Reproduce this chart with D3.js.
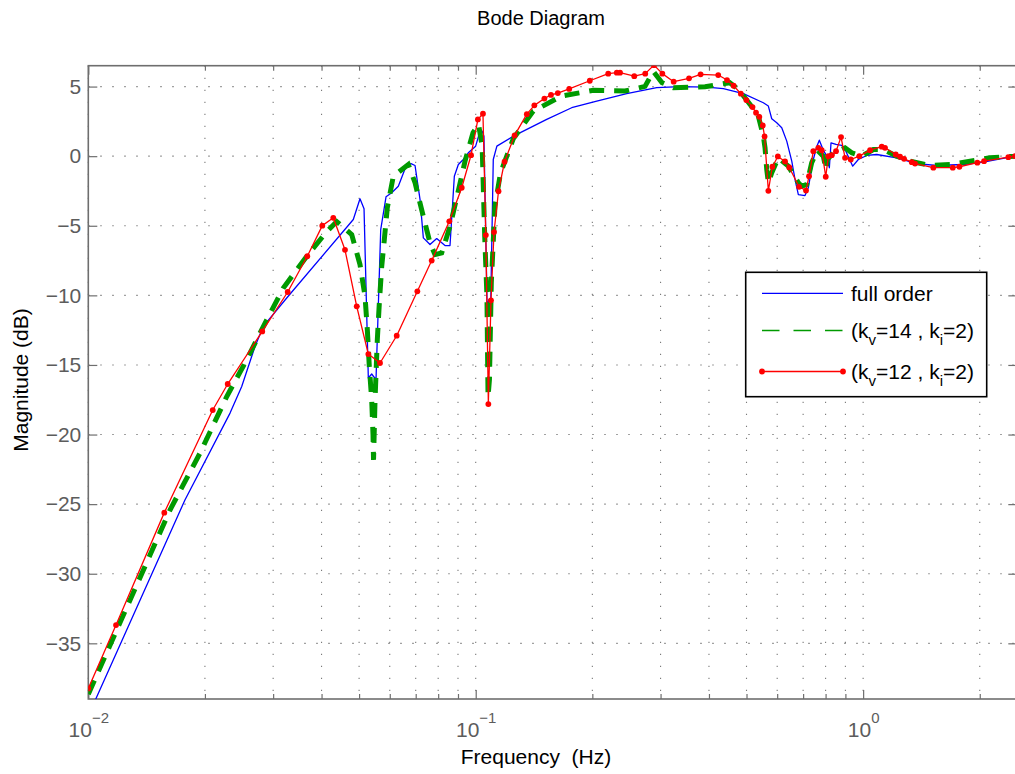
<!DOCTYPE html>
<html>
<head>
<meta charset="utf-8">
<script src="https://cdn.jsdelivr.net/npm/d3@7"></script>
<style>
  body { margin: 0; background: #ffffff; }
  text { font-family: "Liberation Sans", Arial, Helvetica, sans-serif; }
</style>
</head>
<body>
<svg id="chart" width="1015" height="774"></svg>
<script>
// ---------------- DATA ----------------
const chartTitle = "Bode Diagram";
const xLabel = "Frequency  (Hz)";
const yLabel = "Magnitude (dB)";

const xDomain = [0.01, 2.5];
const yDomain = [-39, 6.5];
const yTicks = [-35, -30, -25, -20, -15, -10, -5, 0, 5];
const xMajorTicks = [0.01, 0.1, 1];
const xMajorExponents = ["\u22122", "\u22121", "0"];
const xMinorTicks = [0.02, 0.03, 0.04, 0.05, 0.06, 0.07, 0.08, 0.09,
                     0.2, 0.3, 0.4, 0.5, 0.6, 0.7, 0.8, 0.9, 2];

// full order model
const fullFreq = [0.01, 0.01776, 0.02322, 0.02489, 0.02693, 0.02829, 0.03252, 0.04831, 0.05027, 0.05149,
  0.05282, 0.05389, 0.05529, 0.05686, 0.05868, 0.06070, 0.06313, 0.06636, 0.06808, 0.06972,
  0.07183, 0.07325, 0.07621, 0.07931, 0.08331, 0.08583, 0.08807, 0.09019, 0.09290, 0.09570,
  0.09995, 0.1017, 0.1039, 0.1050, 0.1070, 0.1082, 0.1092, 0.1110, 0.1134, 0.1251,
  0.1525, 0.1769, 0.2053, 0.2453, 0.2932, 0.3369, 0.3948, 0.4357, 0.4908, 0.5526,
  0.5693, 0.5809, 0.5984, 0.6165, 0.6351, 0.6543, 0.6672, 0.6804, 0.7079, 0.7219,
  0.7437, 0.7589, 0.7708, 0.7894, 0.8054, 0.8181, 0.8263, 0.8511, 0.8805, 0.8981,
  0.9400, 0.9719, 1.0216, 1.0842, 1.2212, 1.3753, 1.5488, 1.8146, 2.0430, 2.467, 2.5];
const fullMag = [-40.20, -24.70, -18.46, -16.55, -13.67, -12.23, -10.19, -4.55, -3.06, -3.78,
  -15.94, -15.65, -16.06, -5.27, -2.92, -2.63, -2.16, -0.60, -0.53, -0.67,
  -3.12, -5.87, -6.35, -5.92, -6.42, -6.42, -1.44, -0.60, -0.24, 0.24,
  0.72, 1.44, 1.80, 1.44, -10.74, -10.31, -11.39, -0.24, 0.72, 1.44,
  2.64, 3.48, 3.96, 4.49, 4.92, 4.99, 4.96, 4.85, 4.49, 3.84,
  3.60, 2.69, 2.40, 2.04, 1.08, -0.36, -1.68, -2.76, -2.83, -2.27,
  -0.24, 0.68, 1.15, 0.43, 0.00, -0.83, 0.96, 0.84, 0.77, 0.48,
  -0.72, -0.24, 0.05, 0.12, -0.12, -0.53, -0.67, -0.60, -0.43, 0.00, 0.05];

// reduced model (kv=14, ki=2)
const kv14Freq = [0.01, 0.01625, 0.01942, 0.02277, 0.02564, 0.02774, 0.03187, 0.03663, 0.04125, 0.04377,
  0.04786, 0.05027, 0.05180, 0.05251, 0.05313, 0.05389, 0.05432, 0.05448, 0.05497, 0.05572,
  0.05639, 0.05720, 0.05809, 0.05912, 0.06128, 0.06699, 0.06972, 0.07323, 0.07621, 0.07850,
  0.08169, 0.08583, 0.08933, 0.09385, 0.09840, 0.1017, 0.1039, 0.1055, 0.1069, 0.1076,
  0.1085, 0.1097, 0.1121, 0.1159, 0.1251, 0.1408, 0.1667, 0.2012, 0.2429, 0.2735,
  0.2873, 0.3026, 0.3237, 0.3908, 0.4526, 0.4764, 0.5107, 0.5364, 0.5526, 0.5582,
  0.5639, 0.5693, 0.5809, 0.6040, 0.6411, 0.6804, 0.6942, 0.7151, 0.7366, 0.7617,
  0.7894, 0.8020, 0.8083, 0.8377, 0.8718, 0.8981, 0.9346, 0.9918, 1.0624, 1.1275,
  1.2212, 1.3215, 1.4884, 1.6762, 1.8874, 2.126, 2.467, 2.5];
const kv14Mag = [-38.65, -25.42, -21.34, -17.27, -14.63, -12.71, -9.47, -7.19, -5.42, -4.70,
  -5.63, -7.79, -10.07, -12.47, -15.11, -17.50, -20.02, -21.82, -17.50, -13.19,
  -10.55, -7.91, -5.99, -3.71, -1.44, -0.60, -1.91, -4.32, -6.23, -7.07,
  -6.95, -5.04, -2.99, -0.36, 1.68, 2.28, 0.72, -5.76, -10.07, -17.29,
  -16.06, -9.11, -3.60, -1.19, 1.27, 3.24, 4.32, 4.73, 4.68, 5.01,
  6.09, 5.28, 4.92, 4.99, 5.28, 4.80, 3.72, 2.88, 1.44, 0.60,
  -0.96, -1.91, -1.19, -0.12, -0.72, -1.91, -2.16, -2.04, -0.47, 0.43,
  0.00, -0.96, -0.24, 0.24, 0.43, 0.60, 0.24, 0.00, 0.48, 0.48,
  0.00, -0.36, -0.67, -0.60, -0.36, -0.12, 0.00, 0.03];

// reduced model (kv=12, ki=2)
const kv12Freq = [0.01, 0.01179, 0.01571, 0.02095, 0.02290, 0.02812, 0.03271, 0.03675, 0.04018, 0.04289,
  0.04598, 0.04930, 0.05282, 0.05662, 0.06253, 0.07069, 0.07698, 0.08548, 0.09203, 0.09725,
  0.1013, 0.1044, 0.1062, 0.1078, 0.1095, 0.1115, 0.1145, 0.1187, 0.1260, 0.1355,
  0.1417, 0.1504, 0.1564, 0.1629, 0.1743, 0.1970, 0.2198, 0.2313, 0.2358, 0.2566,
  0.2739, 0.2885, 0.3032, 0.3243, 0.3553, 0.3806, 0.4227, 0.4453, 0.4631, 0.4834,
  0.4995, 0.5182, 0.5291, 0.5396, 0.5507, 0.5566, 0.5693, 0.5830, 0.6024, 0.6287,
  0.6447, 0.6834, 0.7121, 0.7250, 0.7437, 0.7663, 0.7818, 0.8007, 0.8132, 0.8299,
  0.8511, 0.8770, 0.8981, 0.9290, 0.9777, 1.0419, 1.1169, 1.1390, 1.2140, 1.2454,
  1.2755, 1.3353, 1.3614, 1.5178, 1.7035, 1.7720, 1.9715, 2.0515, 2.3700, 2.467];
const kv12Mag = [-38.24, -33.69, -25.61, -18.24, -16.37, -12.59, -9.76, -7.19, -4.99, -4.43,
  -6.73, -10.79, -14.22, -14.86, -12.90, -9.71, -7.50, -4.68, -2.27, 0.07,
  2.64, 3.05, -5.67, -17.81, -10.36, -5.45, -2.52, -0.40, 1.49, 3.02,
  3.65, 4.14, 4.40, 4.53, 4.83, 5.42, 5.93, 6.00, 6.00, 5.75,
  5.93, 6.54, 5.93, 5.35, 5.59, 5.88, 5.83, 5.47, 5.06, 4.49,
  4.03, 3.53, 3.12, 2.83, 2.21, 1.42, -2.49, -0.76, -0.02, -0.38,
  -0.81, -2.20, -2.47, -1.44, 0.36, 0.60, 0.43, -1.48, 0.00, 0.07,
  0.36, 1.37, -0.12, -0.24, 0.00, 0.43, 0.68, 0.60, 0.12, -0.04,
  -0.19, -0.43, -0.53, -0.83, -0.83, -0.76, -0.47, -0.36, -0.07, 0.00];

const seriesNames = ["full order", "kv14", "kv12"];
const seriesColors = ["#0000ff", "#009a00", "#ff0000"];

// ---------------- LAYOUT ----------------
const svg = d3.select("#chart");
const plot = { left: 88.3, right: 1017.3, top: 65.7, bottom: 699 };
const axisColor = "#6e6e6e";
const labelColor = "#5c5c5c";

const x = d3.scaleLog().domain(xDomain).range([plot.left, plot.right]);
const y = d3.scaleLinear().domain(yDomain).range([plot.bottom, plot.top]);

svg.append("rect").attr("width", 1015).attr("height", 774).attr("fill", "#fff");

// clip
svg.append("defs").append("clipPath").attr("id", "clip")
  .append("rect")
  .attr("x", plot.left).attr("y", plot.top)
  .attr("width", plot.right - plot.left).attr("height", plot.bottom - plot.top);

// grid
const grid = svg.append("g").attr("stroke", "#7a7a7a").attr("stroke-width", 1.1)
  .attr("stroke-dasharray", "1.4,10.6").attr("fill", "none");
const allXTicks = xMajorTicks.concat(xMinorTicks);
grid.selectAll("line.vx").data(allXTicks).join("line")
  .attr("x1", d => x(d)).attr("x2", d => x(d))
  .attr("y1", plot.top).attr("y2", plot.bottom);
grid.selectAll("line.hy").data(yTicks).join("line")
  .attr("x1", plot.left).attr("x2", plot.right)
  .attr("y1", d => y(d)).attr("y2", d => y(d));

// axes (ticks inward)
function styleAxis(g) {
  g.select(".domain").remove();
  g.selectAll(".tick line").attr("stroke", axisColor).attr("stroke-width", 1.2);
}
svg.append("g").attr("transform", `translate(0,${plot.bottom})`)
  .call(d3.axisBottom(x).tickValues(xMinorTicks).tickSize(-5).tickFormat(""))
  .call(styleAxis);
svg.append("g").attr("transform", `translate(0,${plot.top})`)
  .call(d3.axisTop(x).tickValues(xMinorTicks).tickSize(-5).tickFormat(""))
  .call(styleAxis);
svg.append("g").attr("transform", `translate(0,${plot.top})`)
  .call(d3.axisTop(x).tickValues(xMajorTicks).tickSize(-9).tickFormat(""))
  .call(styleAxis);
const xAxisG = svg.append("g").attr("transform", `translate(0,${plot.bottom})`)
  .call(d3.axisBottom(x).tickValues(xMajorTicks).tickSize(-9).tickFormat(""))
  .call(styleAxis);
xAxisG.selectAll(".tick text").remove();
xAxisG.selectAll(".tick").each(function(d, i) {
  const t = d3.select(this).append("text")
    .attr("x", 0).attr("y", 38)
    .attr("text-anchor", "middle")
    .attr("fill", labelColor)
    .style("font-size", "21px");
  t.append("tspan").text("10");
  t.append("tspan").attr("dy", -14).style("font-size", "15px").text(xMajorExponents[i]);
});

const yFmt = d => d < 0 ? "\u2212" + Math.abs(d) : String(d);
const yAxisG = svg.append("g").attr("transform", `translate(${plot.left},0)`)
  .call(d3.axisLeft(y).tickValues(yTicks).tickSize(-9).tickPadding(7).tickFormat(yFmt))
  .call(styleAxis);
yAxisG.selectAll(".tick text")
  .attr("fill", labelColor)
  .style("font-size", "21px")
  .style("font-family", "'Liberation Sans', Arial, sans-serif");
svg.append("g").attr("transform", `translate(${plot.right},0)`)
  .call(d3.axisRight(y).tickValues(yTicks).tickSize(-9).tickFormat(""))
  .call(styleAxis);

// box
svg.append("rect")
  .attr("x", plot.left).attr("y", plot.top)
  .attr("width", plot.right - plot.left).attr("height", plot.bottom - plot.top)
  .attr("fill", "none").attr("stroke", axisColor).attr("stroke-width", 1.6);

// lines
const line = d3.line().x(d => x(d[0])).y(d => y(d[1]));
const zip = (a, b) => a.map((v, i) => [v, b[i]]);
const dataG = svg.append("g").attr("clip-path", "url(#clip)");

dataG.append("path").datum(zip(fullFreq, fullMag))
  .attr("d", line).attr("fill", "none")
  .attr("stroke", seriesColors[0]).attr("stroke-width", 1.3)
  .attr("stroke-linejoin", "round");

dataG.append("path").datum(zip(kv14Freq, kv14Mag))
  .attr("d", line).attr("fill", "none")
  .attr("stroke", seriesColors[1]).attr("stroke-width", 5)
  .attr("stroke-dasharray", "15,10");

const redData = zip(kv12Freq, kv12Mag);
dataG.append("path").datum(redData)
  .attr("d", line).attr("fill", "none")
  .attr("stroke", seriesColors[2]).attr("stroke-width", 1.3)
  .attr("stroke-linejoin", "round");
dataG.selectAll("circle.m").data(redData).join("circle")
  .attr("cx", d => x(d[0])).attr("cy", d => y(d[1])).attr("r", 2.9)
  .attr("fill", seriesColors[2]);

// title and labels
svg.append("text").attr("x", 541).attr("y", 25).attr("text-anchor", "middle")
  .attr("fill", "#000").style("font-size", "20px").text(chartTitle);
svg.append("text").attr("x", 536).attr("y", 764).attr("text-anchor", "middle")
  .attr("fill", "#000").style("font-size", "21px").style("white-space", "pre")
  .attr("xml:space", "preserve").text(xLabel);
svg.append("text").attr("transform", "translate(28,380) rotate(-90)")
  .attr("text-anchor", "middle")
  .attr("fill", "#000").style("font-size", "21px").text(yLabel);

// legend
const lg = svg.append("g");
lg.append("rect").attr("x", 745.7).attr("y", 272.3).attr("width", 241).attr("height", 124.4)
  .attr("fill", "#fff").attr("stroke", "#000").attr("stroke-width", 1.6);
const rows = [293.3, 330.5, 371.5];
const lx1 = 762, lx2 = 843, tx = 851;
lg.append("line").attr("x1", lx1).attr("x2", lx2).attr("y1", rows[0]).attr("y2", rows[0])
  .attr("stroke", seriesColors[0]).attr("stroke-width", 1.3);
lg.append("line").attr("x1", lx1).attr("x2", lx2).attr("y1", rows[1]).attr("y2", rows[1])
  .attr("stroke", seriesColors[1]).attr("stroke-width", 1.5).attr("stroke-dasharray", "17.5,14");
lg.append("line").attr("x1", lx1).attr("x2", lx2).attr("y1", rows[2]).attr("y2", rows[2])
  .attr("stroke", seriesColors[2]).attr("stroke-width", 1.3);
lg.selectAll("circle").data([lx1, lx2]).join("circle")
  .attr("cx", d => d).attr("cy", rows[2]).attr("r", 2.9).attr("fill", seriesColors[2]);

lg.append("text").attr("x", tx).attr("y", rows[0] + 7.5).style("font-size", "21px")
  .attr("fill", "#000").text(seriesNames[0]);
function kLabel(yy, kv, ki) {
  const t = lg.append("text").attr("x", tx).attr("y", yy + 7.5).style("font-size", "21px").attr("fill", "#000");
  t.append("tspan").text("(k");
  t.append("tspan").attr("dy", 7).style("font-size", "15px").text("v");
  t.append("tspan").attr("dy", -7).text("=" + kv + " , k");
  t.append("tspan").attr("dy", 7).style("font-size", "15px").text("i");
  t.append("tspan").attr("dy", -7).text("=" + ki + ")");
}
kLabel(rows[1], 14, 2);
kLabel(rows[2], 12, 2);
</script>
</body>
</html>
